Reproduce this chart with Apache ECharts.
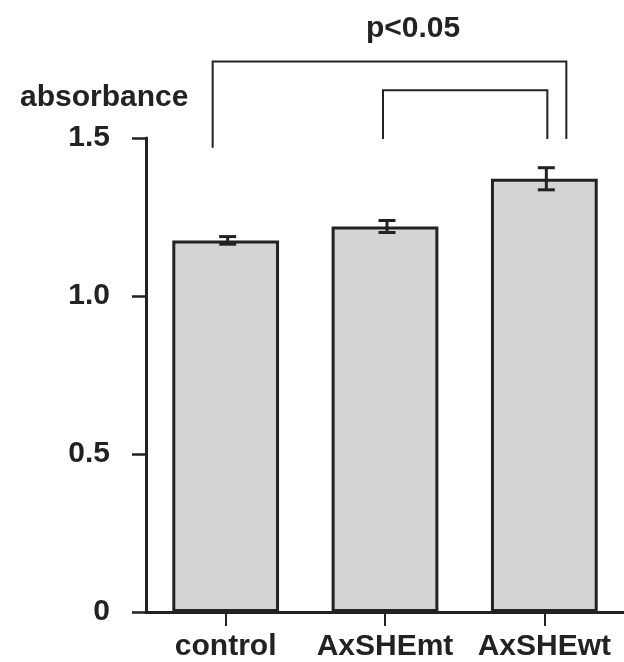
<!DOCTYPE html>
<html>
<head>
<meta charset="utf-8">
<script src="https://cdn.jsdelivr.net/npm/echarts@6/dist/echarts.min.js"></script>
<style>
html,body{margin:0;padding:0;background:#fff;}
#chart{width:624px;height:662px;}
</style>
</head>
<body>
<div id="chart"></div>
<script>
// ---- data ----
const categories = ['control', 'AxSHEmt', 'AxSHEwt'];
const means = [1.176, 1.220, 1.371];
const errors = [0.012, 0.019, 0.035];
const yTickLabels = ['0', '0.5', '1.0', '1.5'];
const yAxisTitle = 'absorbance';
// significance brackets: from category, to category, top value, left end value, right end value
const bracketFrom = [0, 1];
const bracketTo = [2, 2];
const bracketTop = [1.742, 1.651];
const bracketFromEnd = [1.469, 1.497];
const bracketToEnd = [1.497, 1.497];
const sigLabel = 'p<0.05';

// ---- style (pixel offsets of bracket ends relative to category centres) ----
const bracketOffsets = [[-13, 22], [-2, 3]];
const ink = '#222';
const font = '"Liberation Sans", Arial, sans-serif';
const fs = 30;

const chart = echarts.init(document.getElementById('chart'));

const errData = means.map((m, i) => [i, m - errors[i], m + errors[i]]);
const brData = bracketFrom.map((f, i) => [f, bracketTo[i], bracketTop[i], bracketFromEnd[i], bracketToEnd[i], i]);

chart.setOption({
  animation: false,
  backgroundColor: '#fff',
  title: [
    { text: yAxisTitle, left: 15, top: 78,
      textStyle: { fontFamily: font, fontSize: fs, fontWeight: 'bold', color: ink } },
    { text: sigLabel, left: 408, top: 9, textAlign: 'center',
      textStyle: { fontFamily: font, fontSize: fs, fontWeight: 'bold', color: ink } }
  ],
  grid: { left: 146, right: 0, top: 138, bottom: 47 },
  xAxis: {
    type: 'category',
    data: categories,
    axisLine: { lineStyle: { color: ink, width: 3 } },
    axisTick: { show: true, alignWithLabel: true, interval: 0, length: 14, lineStyle: { color: ink, width: 2 } },
    axisLabel: { show: true, interval: 0, hideOverlap: false, margin: 20, fontFamily: font, fontSize: fs, fontWeight: 'bold', color: ink },
    splitLine: { show: false }
  },
  yAxis: {
    type: 'value',
    min: 0, max: 1.5, interval: 0.5,
    axisLine: { show: true, lineStyle: { color: ink, width: 3 } },
    axisTick: { show: true, length: 14, lineStyle: { color: ink, width: 2.5 } },
    axisLabel: { margin: 36, fontFamily: font, fontSize: fs, fontWeight: 'bold', color: ink,
      formatter: v => yTickLabels[Math.round(v / 0.5)] },
    splitLine: { show: false }
  },
  series: [
    {
      type: 'bar',
      data: means,
      barWidth: '67%',
      itemStyle: { color: '#d4d4d4', borderColor: ink, borderWidth: 3 },
      z: 2
    },
    {
      type: 'custom',
      data: errData,
      z: 3,
      renderItem: (params, api) => {
        const lo = api.coord([api.value(0), api.value(1)]);
        const hi = api.coord([api.value(0), api.value(2)]);
        const x = lo[0] + 2, hw = 8.5;
        const st = { stroke: ink, lineWidth: 3 };
        return { type: 'group', children: [
          { type: 'line', shape: { x1: x, y1: hi[1], x2: x, y2: lo[1] }, style: st },
          { type: 'line', shape: { x1: x - hw, y1: hi[1], x2: x + hw, y2: hi[1] }, style: st },
          { type: 'line', shape: { x1: x - hw, y1: lo[1], x2: x + hw, y2: lo[1] }, style: st }
        ]};
      }
    },
    {
      type: 'custom',
      data: brData,
      clip: false,
      z: 3,
      renderItem: (params, api) => {
        const k = api.value(5);
        const off = bracketOffsets[k];
        const a = api.coord([api.value(0), api.value(2)]);
        const b = api.coord([api.value(1), api.value(2)]);
        const aEnd = api.coord([api.value(0), api.value(3)]);
        const bEnd = api.coord([api.value(1), api.value(4)]);
        const x1 = a[0] + off[0], x2 = b[0] + off[1];
        return { type: 'polyline',
          shape: { points: [[x1, aEnd[1]], [x1, a[1]], [x2, b[1]], [x2, bEnd[1]]] },
          style: { stroke: ink, lineWidth: 2, fill: null } };
      }
    }
  ]
});
</script>
</body>
</html>
